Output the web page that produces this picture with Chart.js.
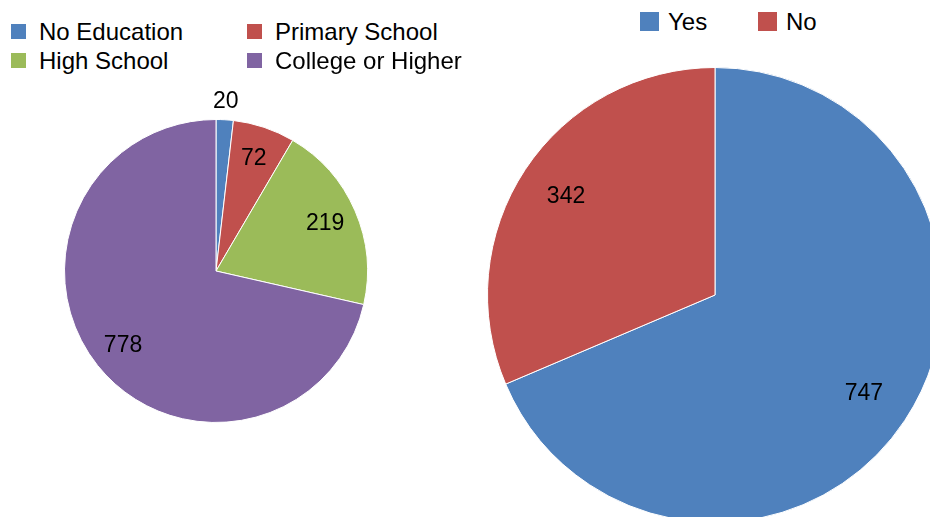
<!DOCTYPE html>
<html>
<head>
<meta charset="utf-8">
<script src="https://cdn.jsdelivr.net/npm/chart.js@4"></script>
<style>
  html, body { margin: 0; padding: 0; background: #fff; overflow: hidden; }
  #wrap { position: relative; width: 930px; height: 517px; overflow: hidden; font-family: "Liberation Sans", Arial, sans-serif; }
  canvas { position: absolute; }
  .leg { position: absolute; font-size: 24px; color: #000; line-height: 28px; white-space: nowrap; }
  .leg span.sw { display: inline-block; vertical-align: middle; }
</style>
</head>
<body>
<div id="wrap">
  <canvas id="eduChart" style="left:0px;top:80px;width:432px;height:382px" width="432" height="382"></canvas>
  <canvas id="yesNoChart" style="left:460px;top:40px;width:512px;height:520px" width="512" height="520"></canvas>
</div>
<script>
// left pie
var eduLabels = ['No Education', 'Primary School', 'High School', 'College or Higher'];
var eduValues = [20, 72, 219, 778];
var eduColors = ['#4F81BD', '#C0504D', '#9BBB59', '#8064A2'];

// right pie
var ansLabels = ['Yes', 'No'];
var ansValues = [747, 342];
var ansColors = ['#4F81BD', '#C0504D'];

// simple value labels, small slices go outside
var valueLabels = {
    id: 'valueLabels',
    afterDatasetsDraw: function(chart) {
        var ctx = chart.ctx;
        var meta = chart.getDatasetMeta(0);
        var vals = chart.data.datasets[0].data;
        var total = vals.reduce(function(a, b) { return a + b; }, 0);
        ctx.save();
        ctx.font = '23px "Liberation Sans", Arial, sans-serif';
        ctx.fillStyle = '#000';
        ctx.textAlign = 'center';
        ctx.textBaseline = 'middle';
        meta.data.forEach(function(arc, i) {
            var p = arc.getProps(['x', 'y', 'startAngle', 'endAngle', 'outerRadius'], true);
            var mid = (p.startAngle + p.endAngle) / 2;
            var f = vals[i] / total < 0.05 ? 1.12 : 0.785;
            var r = p.outerRadius * f;
            ctx.fillText(String(vals[i]), p.x + Math.cos(mid) * r, p.y + Math.sin(mid) * r);
        });
        ctx.restore();
    }
};

function makePie(id, labels, values, colors, pad) {
    var ctx = document.getElementById(id).getContext('2d');
    return new Chart(ctx, {
        type: 'pie',
        data: {
            labels: labels,
            datasets: [{
                data: values,
                backgroundColor: colors,
                borderColor: '#ffffff',
                borderWidth: 1
            }]
        },
        options: {
            responsive: false,
            animation: false,
            layout: { padding: pad },
            plugins: {
                legend: { display: false },
                tooltip: { enabled: false }
            }
        },
        plugins: [valueLabels]
    });
}

makePie('eduChart', eduLabels, eduValues, eduColors, { left: 64, right: 64, top: 39, bottom: 39 });
makePie('yesNoChart', ansLabels, ansValues, ansColors, { left: 27, right: 29, top: 27, bottom: 37 });

// legends built from the same arrays
function addLegend(labels, colors, cols, sw) {
    var wrap = document.getElementById('wrap');
    labels.forEach(function(lab, i) {
        var d = document.createElement('div');
        d.className = 'leg';
        d.style.left = cols[i][0] + 'px';
        d.style.top = cols[i][1] + 'px';
        d.innerHTML = '<span class="sw" style="width:' + sw + 'px;height:' + sw + 'px;background:' + colors[i] +
            ';margin-right:' + (28 - sw) + 'px;margin-top:-4px"></span>' + lab;
        wrap.appendChild(d);
    });
}
addLegend(eduLabels, eduColors, [[11, 18], [247, 18], [11, 47], [247, 47]], 15);
addLegend(ansLabels, ansColors, [[640, 8], [758, 8]], 19);
</script>
</body>
</html>
